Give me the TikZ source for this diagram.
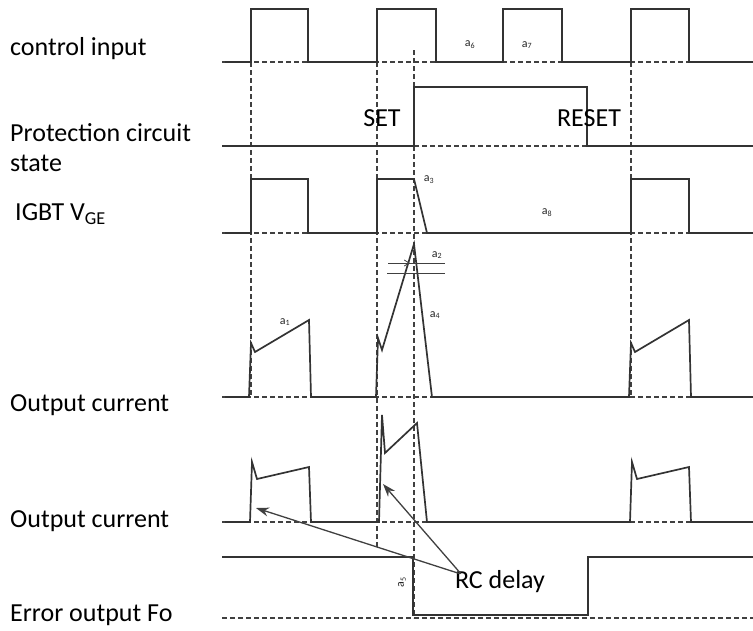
\documentclass[tikz,border=0pt]{standalone}
\usepackage{fontspec}
\setmainfont{Carlito}
\usetikzlibrary{arrows.meta}
\newcommand{\subtag}[1]{a\textsubscript{#1}}
\begin{document}
\begin{tikzpicture}[x=1pt,y=-1pt,
  sig/.style={draw=black!80, line width=1.7pt, line join=miter},
  ref/.style={draw=black!75, line width=1.1pt, dash pattern=on 5pt off 3pt},
  rowname/.style={anchor=west, font=\fontsize{26}{30}\selectfont, inner sep=0pt, align=left},
  edgename/.style={font=\fontsize{26}{30}\selectfont, inner sep=0pt},
  subtagtext/.style={font=\fontsize{12}{12}\selectfont, inner sep=0pt, text=black!85},
  pointer/.style={draw=black!75, line width=1.3pt, -{Stealth[length=13pt,width=9pt]}}]
\useasboundingbox (0,0) rectangle (753,630);
% row names
\node[rowname] (ctrl) at (10,49) {control input};
\node[rowname] (prot) at (10,148) {Protection circuit\\state};
\node[rowname] (vge) at (15,214) {IGBT V\textsubscript{GE}};
\node[rowname] (iout) at (10,405) {Output current};
\node[rowname] (ioutb) at (10,521) {Output current};
\node[rowname] (fo) at (10,615) {Error output Fo};
% reference lines
\foreach \y in {62,146,233,397,522,618}
  \draw[ref] (222,\y) -- (753,\y);
\draw[ref] (251,62) -- (251,397);
\draw[ref] (631,62) -- (631,397);
\draw[ref] (377,62) -- (377,547);
\draw[ref] (414,50) -- (414,618);
% control input
\draw[sig] (225,62) -- (251,62) -- (251,9) -- (308,9) -- (308,62) -- (377,62)
  -- (377,9) -- (436,9) -- (436,62) -- (503,62) -- (503,9) -- (562,9) -- (562,62)
  -- (631,62) -- (631,9) -- (689,9) -- (689,62) -- (753,62);
% protection circuit state
\draw[sig] (222,146) -- (414,146) -- (414,87) -- (587,87) -- (587,146) -- (753,146);
\node[edgename] (set) at (382,118) {SET};
\node[edgename] (reset) at (589,118) {RESET};
% IGBT VGE
\draw[sig] (225,233) -- (251,233) -- (251,179) -- (308,179) -- (308,233) -- (377,233)
  -- (377,179) -- (414,179) -- (427,233) -- (631,233) -- (631,179) -- (689,179)
  -- (689,233) -- (753,233);
% output current
\draw[sig] (225,397) -- (249,397) -- (251,343) -- (255,352) -- (309,320) -- (311,397)
  -- (376,397) -- (378,338) -- (382,350) -- (414,244) -- (432,397) -- (629,397)
  -- (631,343) -- (635,352) -- (689,320) -- (691,397) -- (753,397);
\draw[black!75, line width=1pt] (388,263) -- (445,263);
\draw[black!75, line width=1pt] (387,273) -- (445,273);
\draw[black!75, line width=0.8pt, -{Straight Barb[length=5pt,width=6pt]}] (396,263) -- (410,263);
% output current with RC delay
\draw[sig] (225,522) -- (250,522) -- (252,462) -- (257,479) -- (309,467) -- (311,522)
  -- (379,522) -- (382,415) -- (385,453) -- (417,423) -- (427,522) -- (630,522)
  -- (632,462) -- (637,479) -- (689,467) -- (691,522) -- (753,522);
% error output
\draw[sig] (222,557) -- (413,557) -- (413,615) -- (588,615) -- (588,557) -- (753,557);
% small markers
\node[subtagtext] (ta) at (285,322) {\subtag{1}};
\node[subtagtext] (tb) at (437,255) {\subtag{2}};
\node[subtagtext] (tc) at (429,180) {\subtag{3}};
\node[subtagtext] (td) at (435,315) {\subtag{4}};
\node[subtagtext, rotate=90] (te) at (402,582) {\subtag{5}};
\node[subtagtext] (tf) at (470,45) {\subtag{6}};
\node[subtagtext] (tg) at (527,45) {\subtag{7}};
\node[subtagtext] (th) at (547,213) {\subtag{8}};
% RC delay
\node[edgename] (rc) at (500,582) {RC delay};
\coordinate (tipa) at (256,508);
\coordinate (tipb) at (383,484);
\draw[pointer] ([xshift=5pt,yshift=-3pt]rc.north west) -- (tipa);
\draw[pointer] ([xshift=6pt,yshift=-3pt]rc.north west) -- (tipb);
\end{tikzpicture}
\end{document}
